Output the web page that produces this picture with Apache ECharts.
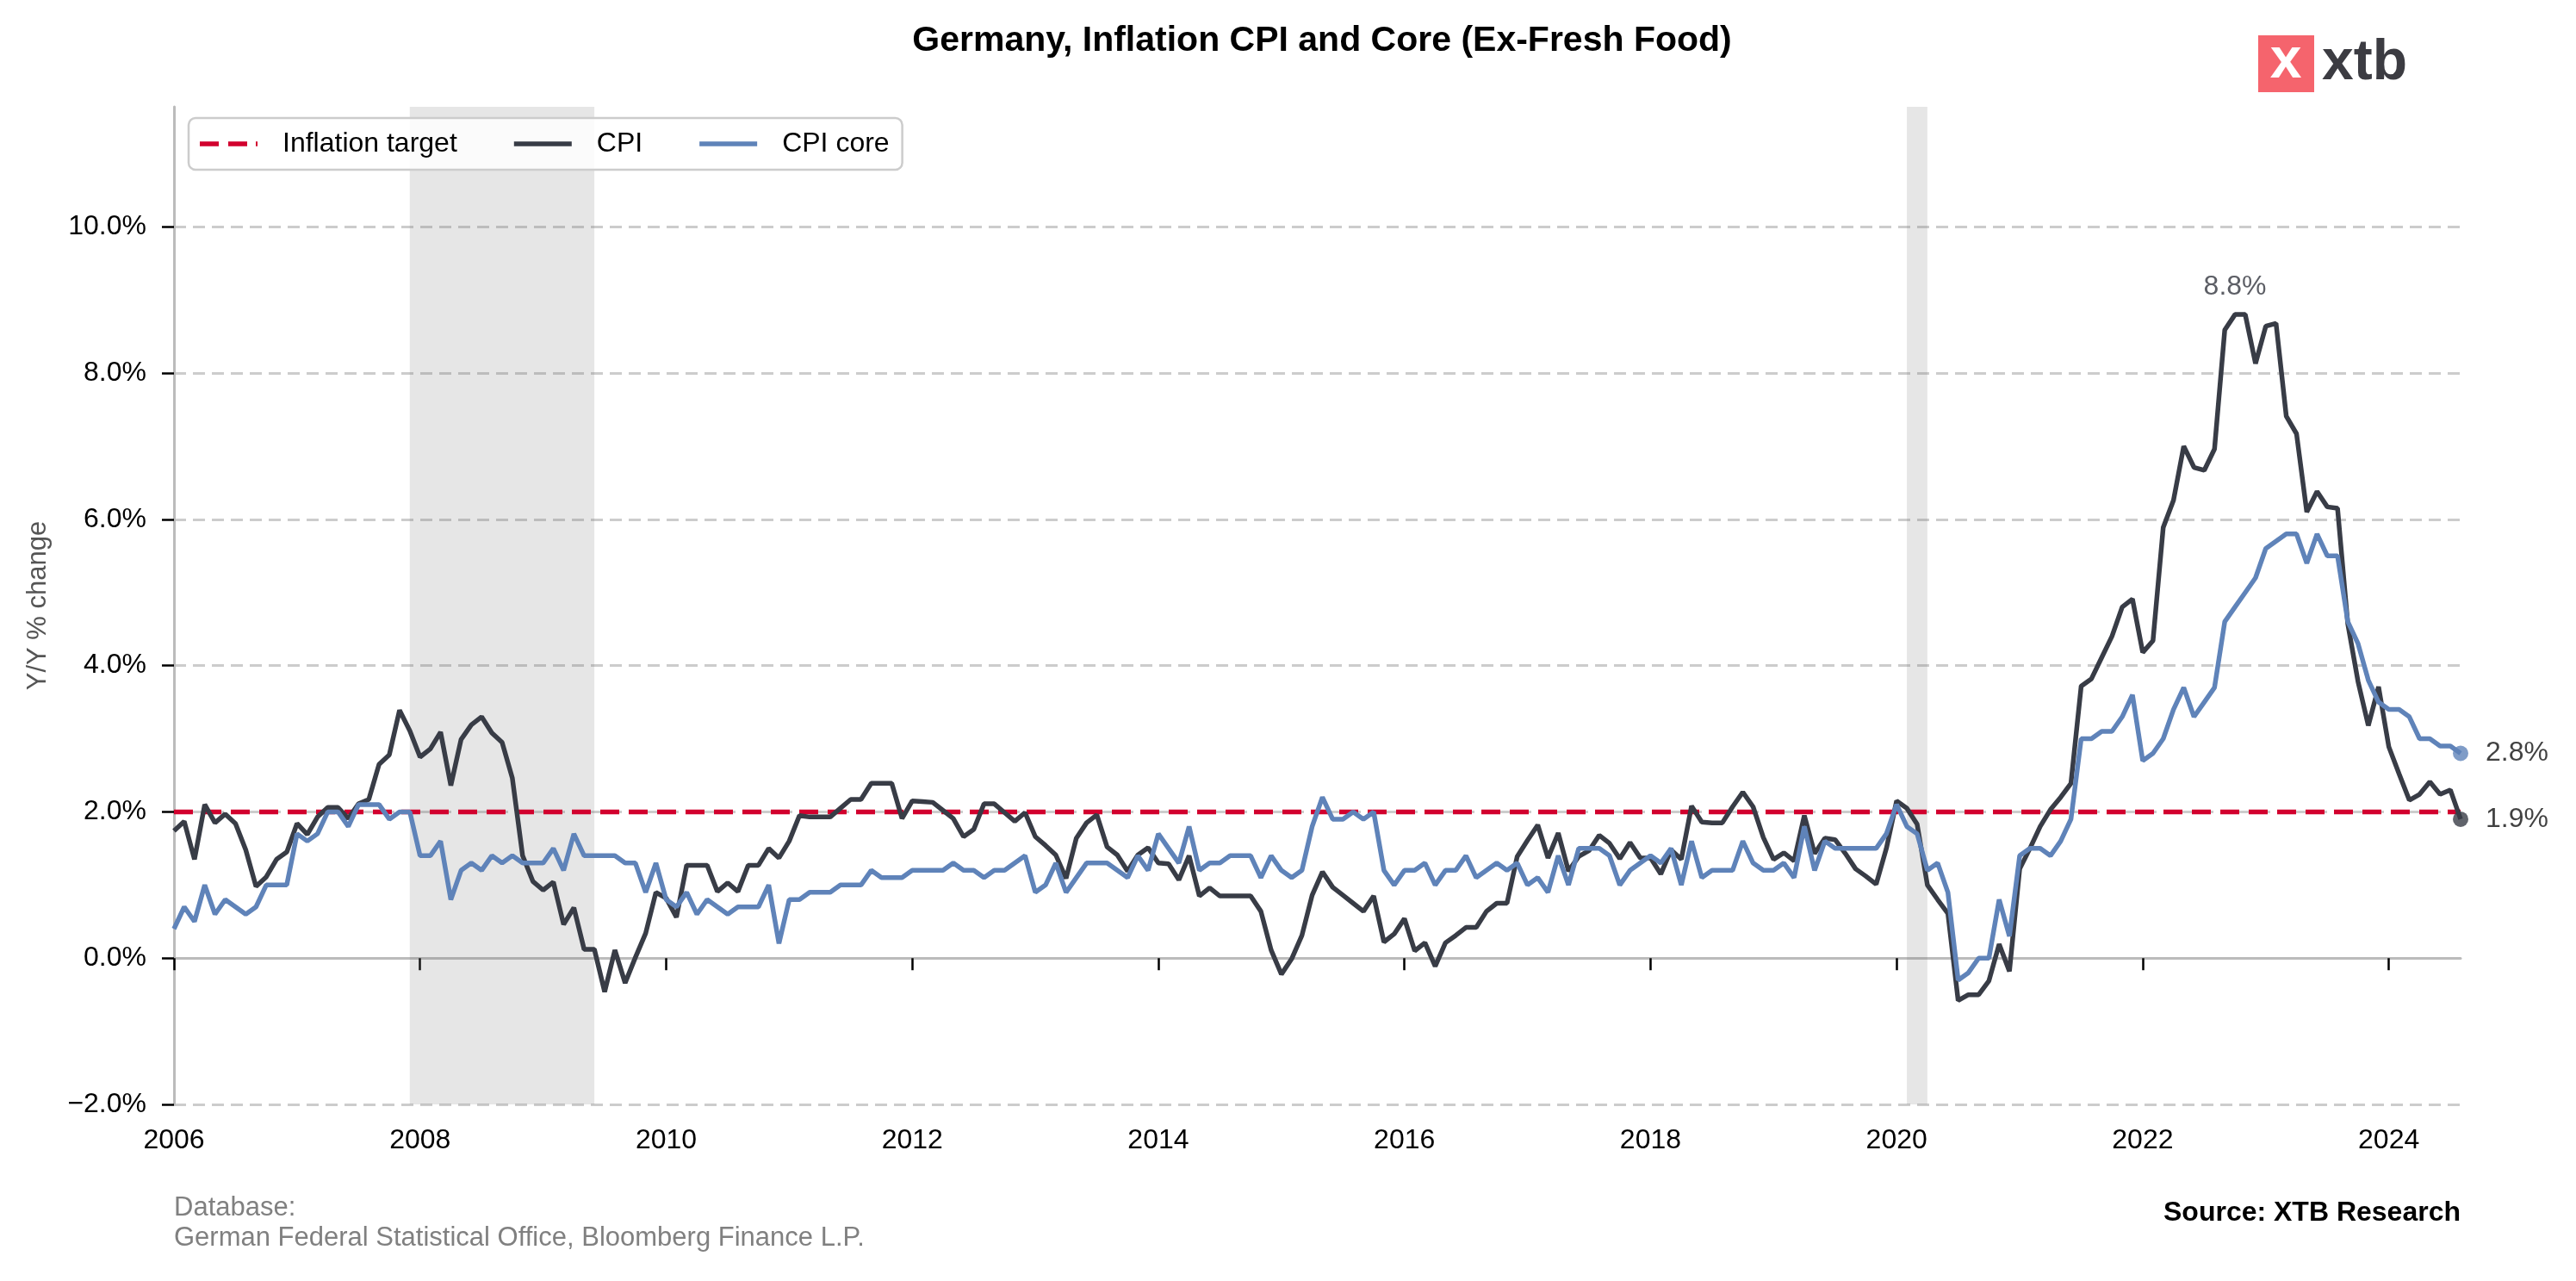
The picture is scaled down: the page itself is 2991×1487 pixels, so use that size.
<!DOCTYPE html>
<html>
<head>
<meta charset="utf-8">
<script src="https://cdn.jsdelivr.net/npm/echarts@6/dist/echarts.min.js"></script>
<style>
html,body{margin:0;padding:0;background:#fff;}
#chart{width:2991px;height:1487px;}
</style>
</head>
<body>
<div id="chart"></div>
<script>
// ---------- DATA ----------
const startYear = 2006, startMonth = 1;      // first observation: 2006-01
const endYear = 2024, endMonth = 8;          // last observation: 2024-08
const months = [];
for (let y = startYear, m = startMonth; y < endYear || (y === endYear && m <= endMonth); ) {
  months.push(y + '-' + String(m).padStart(2, '0'));
  m++; if (m > 12) { m = 1; y++; }
}

const cpi = [
  1.74, 1.87, 1.35, 2.10, 1.85, 1.97, 1.84, 1.48, 0.98, 1.11, 1.35, 1.45,
  1.84, 1.69, 1.93, 2.06, 2.06, 1.91, 2.11, 2.17, 2.65, 2.78, 3.39, 3.11,
  2.75, 2.86, 3.09, 2.36, 2.99, 3.19, 3.30, 3.08, 2.95, 2.46, 1.40, 1.05,
  0.93, 1.04, 0.46, 0.69, 0.12, 0.12, -0.46, 0.11, -0.34, 0.01, 0.34, 0.90,
  0.82, 0.56, 1.27, 1.27, 1.27, 0.91, 1.03, 0.91, 1.27, 1.27, 1.50, 1.37,
  1.60, 1.95, 1.93, 1.93, 1.93, 2.05, 2.17, 2.17, 2.39, 2.39, 2.39, 1.91,
  2.15, 2.14, 2.13, 2.02, 1.91, 1.66, 1.76, 2.11, 2.11, 1.99, 1.87, 1.99,
  1.66, 1.54, 1.41, 1.09, 1.64, 1.85, 1.96, 1.52, 1.41, 1.19, 1.41, 1.51,
  1.30, 1.29, 1.07, 1.40, 0.85, 0.96, 0.85, 0.85, 0.85, 0.85, 0.64, 0.11,
  -0.22, -0.01, 0.31, 0.86, 1.18, 0.97, 0.86, 0.75, 0.64, 0.85, 0.22, 0.33,
  0.54, 0.10, 0.21, -0.11, 0.21, 0.31, 0.42, 0.42, 0.64, 0.75, 0.75, 1.39,
  1.61, 1.82, 1.37, 1.71, 1.19, 1.39, 1.47, 1.68, 1.57, 1.36, 1.58, 1.37,
  1.37, 1.15, 1.48, 1.35, 2.08, 1.86, 1.85, 1.85, 2.07, 2.27, 2.07, 1.65,
  1.35, 1.44, 1.33, 1.95, 1.43, 1.64, 1.62, 1.43, 1.22, 1.12, 1.01, 1.50,
  2.15, 2.05, 1.83, 1.00, 0.80, 0.61, -0.58, -0.50, -0.50, -0.31, 0.19, -0.18,
  1.22, 1.50, 1.80, 2.03, 2.20, 2.39, 3.72, 3.82, 4.11, 4.40, 4.80, 4.91,
  4.18, 4.34, 5.89, 6.26, 7.00, 6.71, 6.67, 6.96, 8.59, 8.80, 8.80, 8.13,
  8.64, 8.68, 7.41, 7.17, 6.10, 6.38, 6.17, 6.15, 4.57, 3.78, 3.18, 3.71,
  2.89, 2.52, 2.16, 2.24, 2.41, 2.24, 2.30, 1.90
];

const cpiCore = [
  0.4, 0.7, 0.5, 1.0, 0.6, 0.8, 0.7, 0.6, 0.7, 1.0, 1.0, 1.0,
  1.7, 1.6, 1.7, 2.0, 2.0, 1.8, 2.1, 2.1, 2.1, 1.9, 2.0, 2.0,
  1.4, 1.4, 1.6, 0.8, 1.2, 1.3, 1.2, 1.4, 1.3, 1.4, 1.3, 1.3,
  1.3, 1.5, 1.2, 1.7, 1.4, 1.4, 1.4, 1.4, 1.3, 1.3, 0.9, 1.3,
  0.8, 0.7, 0.9, 0.6, 0.8, 0.7, 0.6, 0.7, 0.7, 0.7, 1.0, 0.2,
  0.8, 0.8, 0.9, 0.9, 0.9, 1.0, 1.0, 1.0, 1.2, 1.1, 1.1, 1.1,
  1.2, 1.2, 1.2, 1.2, 1.3, 1.2, 1.2, 1.1, 1.2, 1.2, 1.3, 1.4,
  0.9, 1.0, 1.3, 0.9, 1.1, 1.3, 1.3, 1.3, 1.2, 1.1, 1.4, 1.2,
  1.7, 1.5, 1.3, 1.8, 1.2, 1.3, 1.3, 1.4, 1.4, 1.4, 1.1, 1.4,
  1.2, 1.1, 1.2, 1.8, 2.2, 1.9, 1.9, 2.0, 1.9, 2.0, 1.2, 1.0,
  1.2, 1.2, 1.3, 1.0, 1.2, 1.2, 1.4, 1.1, 1.2, 1.3, 1.2, 1.3,
  1.0, 1.1, 0.9, 1.4, 1.0, 1.5, 1.5, 1.5, 1.4, 1.0, 1.2, 1.3,
  1.4, 1.3, 1.5, 1.0, 1.6, 1.1, 1.2, 1.2, 1.2, 1.6, 1.3, 1.2,
  1.2, 1.3, 1.1, 1.8, 1.2, 1.6, 1.5, 1.5, 1.5, 1.5, 1.5, 1.7,
  2.1, 1.8, 1.7, 1.2, 1.3, 0.9, -0.3, -0.2, 0.0, 0.0, 0.8, 0.3,
  1.4, 1.5, 1.5, 1.4, 1.6, 1.9, 3.0, 3.0, 3.1, 3.1, 3.3, 3.6,
  2.7, 2.8, 3.0, 3.4, 3.7, 3.3, 3.5, 3.7, 4.6, 4.8, 5.0, 5.2,
  5.6, 5.7, 5.8, 5.8, 5.4, 5.8, 5.5, 5.5, 4.6, 4.3, 3.8, 3.5,
  3.4, 3.4, 3.3, 3.0, 3.0, 2.9, 2.9, 2.8
];

const inflationTarget = 2.0;
const recessions = [['2007-12', '2009-06'], ['2020-02', '2020-04']];
const yTicks = [-2, 0, 2, 4, 6, 8, 10];
const peakLabel = { month: '2022-10', value: 8.8, text: '8.8%' };

// ---------- STYLE ----------
const FONT = '"Liberation Sans", Arial, Helvetica, sans-serif';
const C_CPI = '#383c46', C_CORE = '#5f83b9', C_TARGET = '#d2002e';
const lastIdx = months.length - 1;
const pct = v => (v < 0 ? '\u2212' + Math.abs(v).toFixed(1) : v.toFixed(1)) + '%';
const DASH_ICON = 'path://M0,0H22V5.5H0Z M33,0H55V5.5H33Z M65,0H67V5.5H65Z';

const chart = echarts.init(document.getElementById('chart'), null, { renderer: 'canvas' });

const option = {
  animation: false,
  backgroundColor: '#ffffff',
  textStyle: { fontFamily: FONT },
  title: {
    text: 'Germany, Inflation CPI and Core (Ex-Fresh Food)',
    left: 1530, top: 22, textAlign: 'center',
    textStyle: { fontFamily: FONT, fontSize: 41, fontWeight: 'bold', color: '#000' }
  },
  grid: { left: 202, right: 134, top: 124, bottom: 205, containLabel: false },
  legend: {
    data: [
      { name: 'Inflation target', icon: DASH_ICON },
      { name: 'CPI', icon: 'rect' },
      { name: 'CPI core', icon: 'rect' }
    ],
    left: 219, top: 137,
    itemWidth: 67, itemHeight: 5.5, itemGap: 66,
    padding: [14, 15, 14, 13],
    backgroundColor: 'rgba(255,255,255,0.82)',
    borderColor: '#cccccc', borderWidth: 2.5, borderRadius: 8,
    textStyle: { fontFamily: FONT, fontSize: 32, color: '#000', padding: [0, 0, 0, 24] }
  },
  xAxis: {
    type: 'category', data: months, boundaryGap: false,
    axisLine: { show: true, lineStyle: { color: '#bbbbbb', width: 3 } },
    axisTick: { show: true, interval: 23, length: 14, lineStyle: { color: '#000', width: 2.5 } },
    axisLabel: { interval: 23, formatter: v => v.slice(0, 4), fontFamily: FONT, fontSize: 32, color: '#000', margin: 26 },
    splitLine: { show: false }
  },
  yAxis: {
    type: 'value', min: -2, max: 11.64, interval: 2,
    name: 'Y/Y % change', nameLocation: 'middle', nameGap: 142,
    nameTextStyle: { fontFamily: FONT, fontSize: 31, color: '#555' },
    axisLine: { show: true, lineStyle: { color: '#bbbbbb', width: 3 } },
    axisTick: { show: true, length: 14, lineStyle: { color: '#000', width: 2.5 }, customValues: yTicks },
    axisLabel: { formatter: pct, fontFamily: FONT, fontSize: 32, color: '#000', margin: 32, customValues: yTicks },
    splitLine: { show: true, lineStyle: { color: '#cccccc', width: 3, type: [14, 8] } }
  },
  series: [
    {
      name: 'Inflation target', type: 'line', z: 2,
      data: [[months[0], inflationTarget], [months[lastIdx], inflationTarget]],
      symbol: 'none', silent: true,
      lineStyle: { color: C_TARGET, width: 5.5, type: [22, 11] },
      itemStyle: { color: C_TARGET },
      markArea: {
        silent: true,
        itemStyle: { color: 'rgba(120,120,120,0.19)' },
        data: recessions.map(r => [{ xAxis: r[0] }, { xAxis: r[1] }])
      }
    },
    {
      name: 'CPI', type: 'line', z: 3, data: cpi, symbol: 'none', silent: true,
      lineStyle: { color: C_CPI, width: 5.5 }, itemStyle: { color: C_CPI }
    },
    {
      name: 'CPI core', type: 'line', z: 4, data: cpiCore, symbol: 'none', silent: true,
      lineStyle: { color: C_CORE, width: 5.5 }, itemStyle: { color: C_CORE }
    },
    {
      name: 'last', type: 'scatter', z: 5, symbolSize: 18, silent: true,
      data: [
        { value: [months[lastIdx], cpiCore[lastIdx]], itemStyle: { color: C_CORE } },
        { value: [months[lastIdx], cpi[lastIdx]], itemStyle: { color: C_CPI } }
      ],
      label: {
        show: true, position: 'right', distance: 20,
        formatter: p => pct(p.value[1]),
        fontFamily: FONT, fontSize: 32, color: '#111'
      }
    },
    {
      name: 'peak', type: 'scatter', z: 5, symbolSize: 0, silent: true,
      data: [[peakLabel.month, peakLabel.value]],
      label: {
        show: true, position: 'top', distance: 16,
        formatter: () => peakLabel.text,
        fontFamily: FONT, fontSize: 32, color: '#33363e'
      }
    }
  ],
  graphic: [
    { type: 'rect', shape: { x: 2622, y: 41, width: 65, height: 66 }, style: { fill: '#f5646d' } },
    { type: 'text', x: 2654, y: 72, style: { text: 'x', fontFamily: FONT, fontSize: 66, fontWeight: 'bold', fill: '#ffffff', align: 'center', verticalAlign: 'middle' } },
    { type: 'text', x: 2696, y: 74, style: { text: 'xtb', fontFamily: FONT, fontSize: 66, fontWeight: 'bold', fill: '#3c3c42', align: 'left', verticalAlign: 'middle' } },
    { type: 'text', x: 202, y: 1402, style: { text: 'Database:', fontFamily: FONT, fontSize: 31, fill: '#808080', align: 'left', verticalAlign: 'middle' } },
    { type: 'text', x: 202, y: 1437, style: { text: 'German Federal Statistical Office, Bloomberg Finance L.P.', fontFamily: FONT, fontSize: 31, fill: '#808080', align: 'left', verticalAlign: 'middle' } },
    { type: 'text', x: 2857, y: 1408, style: { text: 'Source: XTB Research', fontFamily: FONT, fontSize: 32, fontWeight: 'bold', fill: '#000', align: 'right', verticalAlign: 'middle' } }
  ]
};

chart.setOption(option);
</script>
</body>
</html>
